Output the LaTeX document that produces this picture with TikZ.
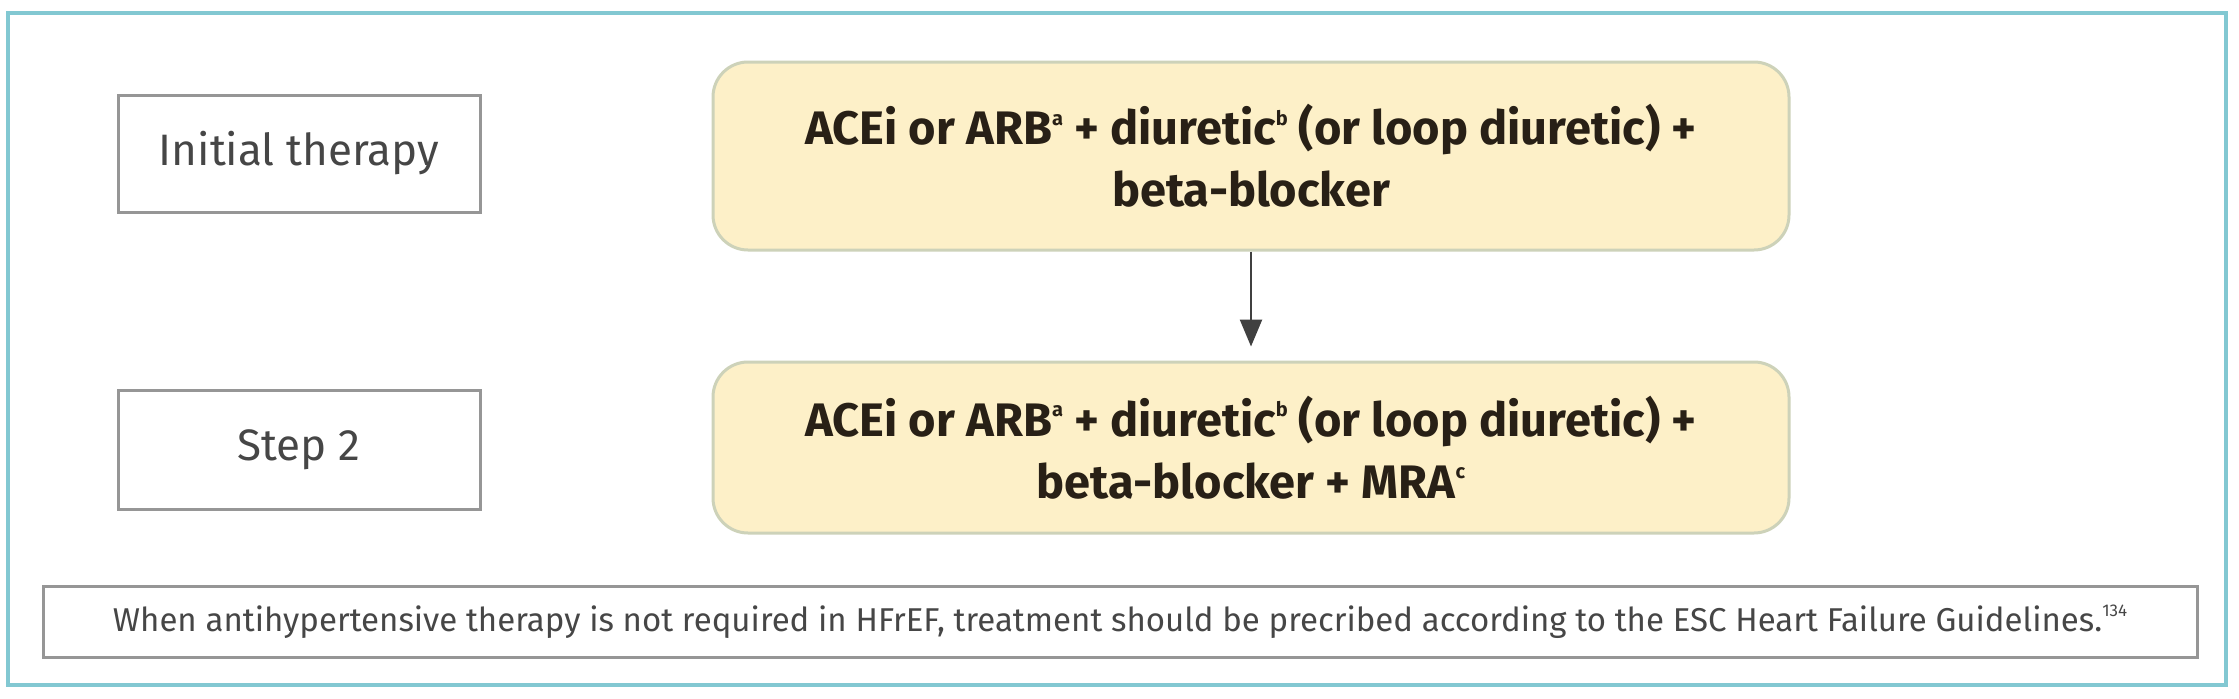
\documentclass[tikz,border=0pt]{standalone}
\usepackage{fontspec}
\setmainfont{Fira Sans}
\usetikzlibrary{arrows.meta}
\definecolor{framecol}{RGB}{130,200,210}
\definecolor{labgray}{RGB}{150,150,150}
\definecolor{labtext}{RGB}{70,70,70}
\definecolor{yelfill}{RGB}{253,240,200}
\definecolor{yeledge}{RGB}{205,210,185}
\definecolor{yeltext}{RGB}{40,32,22}
\definecolor{notetext}{RGB}{70,70,70}
\tikzset{
  labelbox/.style={draw=labgray, line width=3pt, fill=white, minimum width=362pt, minimum height=117pt, inner sep=0pt, text=labtext, font=\fontsize{44}{48}\selectfont},
  drugbox/.style={draw=yeledge, line width=3pt, fill=yelfill, rounded corners=35pt, minimum width=1076pt, inner sep=0pt, align=center, text=yeltext, font=\fontsize{47}{62}\selectfont\bfseries},
  notebox/.style={draw=labgray, line width=3pt, fill=white, minimum width=2154pt, minimum height=71pt, inner sep=0pt, text=notetext, font=\fontsize{33}{36}\selectfont},
  flowarrow/.style={draw=black!75, line width=2.5pt, -{Triangle[length=27pt,width=22pt]}, shorten >=14pt}
}
\newcommand{\sups}[1]{\raisebox{0.42em}{\fontsize{20}{20}\selectfont #1}}
\newcommand{\supn}[1]{\raisebox{0.45em}{\fontsize{17}{17}\selectfont #1}}
\begin{document}
\begin{tikzpicture}[x=1pt,y=-1pt]
\useasboundingbox (0,0) rectangle (2239,699);
\fill[white] (0,0) rectangle (2239,699);
\draw[draw=framecol, line width=4pt, fill=white] (8,13) rectangle (2226,685);
\node[labelbox] (init) at (299,153.5) {Initial therapy};
\node[labelbox, minimum height=119pt] (step) at (299,449.5) {Step 2};
\node[drugbox, minimum height=188pt] (top) at (1251,156) {ACEi or ARB\sups{a} + diuretic\sups{b} (or loop diuretic) +\\ beta-blocker};
\node[drugbox, minimum height=171pt] (bot) at (1251,447.5) {ACEi or ARB\sups{a} + diuretic\sups{b} (or loop diuretic) +\\ beta-blocker + MRA\sups{c}};
\node[notebox] (note) at (1120,622) {When antihypertensive therapy is not required in HFrEF, treatment should be precribed according to the ESC Heart Failure Guidelines.\supn{134}};
\draw[flowarrow] (top.south) -- (bot.north);
\end{tikzpicture}
\end{document}
